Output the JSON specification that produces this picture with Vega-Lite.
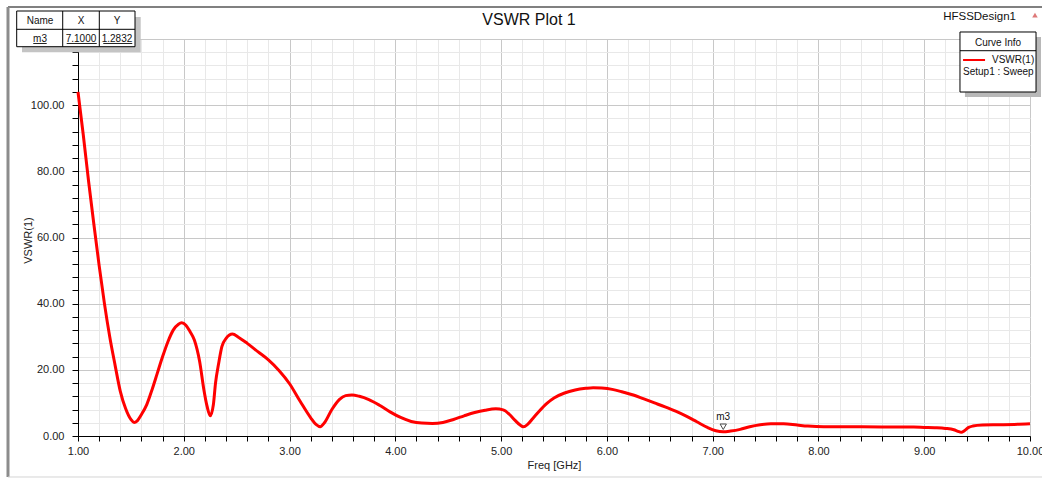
{
  "$schema": "https://vega.github.io/schema/vega-lite/v6.json",
  "width": 952,
  "height": 397,
  "autosize": {"type": "none"},
  "padding": {"left": 78, "top": 39, "right": 12, "bottom": 43},
  "background": "white",
  "config": {
    "font": "Liberation Sans",
    "view": {"stroke": "black", "strokeWidth": 1},
    "text": {"font": "Liberation Sans"}
  },
  "datasets": {
    "one": [{}],
    "marker": [{"Name": "m3", "X": 7.1, "Y": 1.2832}],
    "curve": [
      {"Freq": 1.00, "VSWR": 104},
      {"Freq": 1.05, "VSWR": 91},
      {"Freq": 1.10, "VSWR": 77},
      {"Freq": 1.15, "VSWR": 64},
      {"Freq": 1.20, "VSWR": 51.5},
      {"Freq": 1.25, "VSWR": 40},
      {"Freq": 1.30, "VSWR": 30},
      {"Freq": 1.35, "VSWR": 21.5},
      {"Freq": 1.40, "VSWR": 13.5},
      {"Freq": 1.45, "VSWR": 8.3},
      {"Freq": 1.50, "VSWR": 5},
      {"Freq": 1.53, "VSWR": 4.1},
      {"Freq": 1.56, "VSWR": 4.6},
      {"Freq": 1.60, "VSWR": 6.5},
      {"Freq": 1.65, "VSWR": 9.5},
      {"Freq": 1.70, "VSWR": 14},
      {"Freq": 1.75, "VSWR": 19},
      {"Freq": 1.80, "VSWR": 24},
      {"Freq": 1.85, "VSWR": 28.5},
      {"Freq": 1.90, "VSWR": 32},
      {"Freq": 1.95, "VSWR": 33.8},
      {"Freq": 1.98, "VSWR": 34.2},
      {"Freq": 2.02, "VSWR": 33.5},
      {"Freq": 2.06, "VSWR": 31.5},
      {"Freq": 2.10, "VSWR": 29},
      {"Freq": 2.15, "VSWR": 22.5},
      {"Freq": 2.19, "VSWR": 14},
      {"Freq": 2.22, "VSWR": 9},
      {"Freq": 2.25, "VSWR": 6.1},
      {"Freq": 2.28, "VSWR": 9.5},
      {"Freq": 2.30, "VSWR": 16},
      {"Freq": 2.33, "VSWR": 22},
      {"Freq": 2.36, "VSWR": 27},
      {"Freq": 2.40, "VSWR": 29.5},
      {"Freq": 2.46, "VSWR": 30.8},
      {"Freq": 2.52, "VSWR": 29.8},
      {"Freq": 2.60, "VSWR": 28},
      {"Freq": 2.70, "VSWR": 25.5},
      {"Freq": 2.80, "VSWR": 23},
      {"Freq": 2.90, "VSWR": 19.8},
      {"Freq": 3.00, "VSWR": 15.8},
      {"Freq": 3.10, "VSWR": 10.5},
      {"Freq": 3.20, "VSWR": 5.5},
      {"Freq": 3.25, "VSWR": 3.5},
      {"Freq": 3.29, "VSWR": 2.8},
      {"Freq": 3.33, "VSWR": 4},
      {"Freq": 3.40, "VSWR": 8},
      {"Freq": 3.47, "VSWR": 11},
      {"Freq": 3.53, "VSWR": 12.2},
      {"Freq": 3.59, "VSWR": 12.4},
      {"Freq": 3.66, "VSWR": 12},
      {"Freq": 3.75, "VSWR": 11},
      {"Freq": 3.85, "VSWR": 9.3},
      {"Freq": 3.95, "VSWR": 7.3},
      {"Freq": 4.05, "VSWR": 5.6},
      {"Freq": 4.15, "VSWR": 4.4},
      {"Freq": 4.25, "VSWR": 3.9},
      {"Freq": 4.35, "VSWR": 3.8},
      {"Freq": 4.45, "VSWR": 4.1},
      {"Freq": 4.55, "VSWR": 5},
      {"Freq": 4.65, "VSWR": 6.1},
      {"Freq": 4.75, "VSWR": 7.1},
      {"Freq": 4.85, "VSWR": 7.8},
      {"Freq": 4.95, "VSWR": 8.2},
      {"Freq": 5.02, "VSWR": 7.9},
      {"Freq": 5.08, "VSWR": 6.5},
      {"Freq": 5.13, "VSWR": 4.8},
      {"Freq": 5.18, "VSWR": 3.3},
      {"Freq": 5.21, "VSWR": 2.8},
      {"Freq": 5.25, "VSWR": 3.5},
      {"Freq": 5.30, "VSWR": 5.3},
      {"Freq": 5.36, "VSWR": 7.5},
      {"Freq": 5.43, "VSWR": 9.8},
      {"Freq": 5.50, "VSWR": 11.5},
      {"Freq": 5.60, "VSWR": 13},
      {"Freq": 5.70, "VSWR": 13.9},
      {"Freq": 5.80, "VSWR": 14.4},
      {"Freq": 5.87, "VSWR": 14.6},
      {"Freq": 5.95, "VSWR": 14.5},
      {"Freq": 6.05, "VSWR": 14.1},
      {"Freq": 6.15, "VSWR": 13.3},
      {"Freq": 6.25, "VSWR": 12.4},
      {"Freq": 6.35, "VSWR": 11.2},
      {"Freq": 6.45, "VSWR": 10},
      {"Freq": 6.55, "VSWR": 8.8},
      {"Freq": 6.65, "VSWR": 7.5},
      {"Freq": 6.75, "VSWR": 6},
      {"Freq": 6.85, "VSWR": 4.3},
      {"Freq": 6.95, "VSWR": 2.6},
      {"Freq": 7.03, "VSWR": 1.6},
      {"Freq": 7.10, "VSWR": 1.28},
      {"Freq": 7.17, "VSWR": 1.5},
      {"Freq": 7.26, "VSWR": 2.0},
      {"Freq": 7.35, "VSWR": 2.8},
      {"Freq": 7.45, "VSWR": 3.4},
      {"Freq": 7.55, "VSWR": 3.7},
      {"Freq": 7.67, "VSWR": 3.7},
      {"Freq": 7.80, "VSWR": 3.3},
      {"Freq": 7.90, "VSWR": 3.0},
      {"Freq": 8.05, "VSWR": 2.8},
      {"Freq": 8.30, "VSWR": 2.8},
      {"Freq": 8.60, "VSWR": 2.75},
      {"Freq": 8.90, "VSWR": 2.7},
      {"Freq": 9.00, "VSWR": 2.6},
      {"Freq": 9.10, "VSWR": 2.5},
      {"Freq": 9.20, "VSWR": 2.3},
      {"Freq": 9.28, "VSWR": 1.9},
      {"Freq": 9.32, "VSWR": 1.4},
      {"Freq": 9.35, "VSWR": 1.1},
      {"Freq": 9.38, "VSWR": 1.6},
      {"Freq": 9.42, "VSWR": 2.6},
      {"Freq": 9.46, "VSWR": 3.0},
      {"Freq": 9.55, "VSWR": 3.3},
      {"Freq": 9.70, "VSWR": 3.4},
      {"Freq": 9.85, "VSWR": 3.5},
      {"Freq": 10.00, "VSWR": 3.7}
    ]
  },
  "layer": [
    {"data": {"name": "curve"},
     "mark": {"type": "line", "color": "#ff0000", "strokeWidth": 3, "interpolate": "monotone"},
     "encoding": {
       "x": {"field": "Freq", "type": "quantitative",
             "scale": {"domain": [1, 10], "nice": false, "zero": false},
             "axis": {
               "title": "Freq [GHz]",
               "values": [1,1.2,1.4,1.6,1.8,2,2.2,2.4,2.6,2.8,3,3.2,3.4,3.6,3.8,4,4.2,4.4,4.6,4.8,5,5.2,5.4,5.6,5.8,6,6.2,6.4,6.6,6.8,7,7.2,7.4,7.6,7.8,8,8.2,8.4,8.6,8.8,9,9.2,9.4,9.6,9.8,10],
               "tickCount": 200,
               "labelExpr": "abs(datum.value - round(datum.value)) < 0.01 ? format(datum.value, '.2f') : ''",
               "grid": true,
               "gridColor": {"condition": {"test": "abs(datum.value - round(datum.value)) < 0.01", "value": "#c8c8c8"}, "value": "#e8e8e8"},
               "gridWidth": 1,
               "domainColor": "#000000", "tickColor": "#000000", "tickSize": 5,
               "labelFont": "Liberation Sans", "labelFontSize": 11, "labelColor": "#222222", "labelPadding": 4,
               "labelFlush": false, "labelOverlap": false, "labelBound": false,
               "titleFont": "Liberation Sans", "titleFontSize": 11, "titleFontWeight": "normal", "titleColor": "#222222", "titlePadding": 3
             }},
       "y": {"field": "VSWR", "type": "quantitative",
             "scale": {"domain": [0, 120], "nice": false, "zero": false},
             "axis": {
               "title": "VSWR(1)",
               "values": [0,4,8,12,16,20,24,28,32,36,40,44,48,52,56,60,64,68,72,76,80,84,88,92,96,100,104,108,112,116,120],
               "tickCount": 200,
               "labelExpr": "datum.value % 20 === 0 && datum.value <= 100 ? format(datum.value, '.2f') : ''",
               "grid": true,
               "gridColor": {"condition": {"test": "datum.value % 20 === 0", "value": "#c8c8c8"}, "value": "#e8e8e8"},
               "gridWidth": 1,
               "domainColor": "#000000", "tickColor": "#000000", "tickSize": 6,
               "labelFont": "Liberation Sans", "labelFontSize": 11, "labelColor": "#222222", "labelPadding": 8,
               "labelOverlap": false, "labelBound": false,
               "titleFont": "Liberation Sans", "titleFontSize": 11, "titleFontWeight": "normal", "titleColor": "#222222",
               "titleX": -45, "titleY": 201
             }}
     }},
    {"data": {"name": "one"}, "mark": {"type": "rule", "color": "#808080", "strokeWidth": 2},
     "encoding": {"x": {"datum": 0.3382, "type": "quantitative"}, "x2": {"datum": 10.2}, "y": {"datum": 129.67, "type": "quantitative"}}},
    {"data": {"name": "one"}, "mark": {"type": "rule", "color": "#8c8c8c", "strokeWidth": 3},
     "encoding": {"x": {"datum": 0.3382, "type": "quantitative"}, "y": {"datum": 129.67, "type": "quantitative"}, "y2": {"datum": -12.39}}},
    {"data": {"name": "one"}, "mark": {"type": "rule", "color": "#d4d4d4", "strokeWidth": 1},
     "encoding": {"x": {"datum": 0.3382, "type": "quantitative"}, "x2": {"datum": 10.2}, "y": {"datum": -12.39, "type": "quantitative"}}},
    {"data": {"name": "one"}, "mark": {"type": "text", "fontSize": 16, "color": "#111111", "align": "center", "baseline": "middle"},
     "encoding": {"x": {"datum": 5.2637, "type": "quantitative"}, "y": {"datum": 125.6, "type": "quantitative"}, "text": {"value": "VSWR Plot 1"}}},
    {"data": {"name": "marker"}, "mark": {"type": "point", "shape": "triangle-down", "filled": false, "stroke": "#000000", "strokeWidth": 1, "size": 40, "yOffset": -5},
     "encoding": {"x": {"field": "X", "type": "quantitative"}, "y": {"field": "Y", "type": "quantitative"}}},
    {"data": {"name": "marker"}, "mark": {"type": "text", "fontSize": 10, "dy": -15, "color": "#111111"},
     "encoding": {"x": {"field": "X", "type": "quantitative"}, "y": {"field": "Y", "type": "quantitative"}, "text": {"field": "Name"}}},

    {"data": {"name": "one"}, "mark": {"type": "rect", "color": "#c4c4c4"},
     "encoding": {"x": {"datum": 0.4706, "type": "quantitative"}, "x2": {"datum": 1.5928}, "y": {"datum": 126.65, "type": "quantitative"}, "y2": {"datum": 115.98}}},
    {"data": {"name": "one"}, "mark": {"type": "rect", "fill": "white", "stroke": "black", "strokeWidth": 1},
     "encoding": {"x": {"datum": 0.4205, "type": "quantitative"}, "x2": {"datum": 1.5389}, "y": {"datum": 128.46, "type": "quantitative"}, "y2": {"datum": 117.67}}},
    {"data": {"name": "one"}, "mark": {"type": "rule", "color": "black", "strokeWidth": 1},
     "encoding": {"x": {"datum": 0.4205, "type": "quantitative"}, "x2": {"datum": 1.5389}, "y": {"datum": 122.93, "type": "quantitative"}}},
    {"data": {"name": "one"}, "mark": {"type": "rule", "color": "black", "strokeWidth": 1},
     "encoding": {"x": {"datum": 0.8554, "type": "quantitative"}, "y": {"datum": 128.46, "type": "quantitative"}, "y2": {"datum": 117.67}}},
    {"data": {"name": "one"}, "mark": {"type": "rule", "color": "black", "strokeWidth": 1},
     "encoding": {"x": {"datum": 1.2014, "type": "quantitative"}, "y": {"datum": 128.46, "type": "quantitative"}, "y2": {"datum": 117.67}}},
    {"data": {"name": "one"}, "mark": {"type": "text", "fontSize": 10, "color": "#111111", "align": "center", "baseline": "middle"},
     "encoding": {"x": {"datum": 0.6408, "type": "quantitative"}, "y": {"datum": 125.29, "type": "quantitative"}, "text": {"value": "Name"}}},
    {"data": {"name": "one"}, "mark": {"type": "text", "fontSize": 10, "color": "#111111", "align": "center", "baseline": "middle"},
     "encoding": {"x": {"datum": 1.0284, "type": "quantitative"}, "y": {"datum": 125.29, "type": "quantitative"}, "text": {"value": "X"}}},
    {"data": {"name": "one"}, "mark": {"type": "text", "fontSize": 10, "color": "#111111", "align": "center", "baseline": "middle"},
     "encoding": {"x": {"datum": 1.3687, "type": "quantitative"}, "y": {"datum": 125.29, "type": "quantitative"}, "text": {"value": "Y"}}},
    {"data": {"name": "marker"}, "mark": {"type": "text", "fontSize": 10, "color": "#111111", "align": "center", "baseline": "middle"},
     "encoding": {"x": {"datum": 0.6408, "type": "quantitative"}, "y": {"datum": 120.0, "type": "quantitative"}, "text": {"field": "Name"}}},
    {"data": {"name": "marker"}, "mark": {"type": "text", "fontSize": 10, "color": "#111111", "align": "center", "baseline": "middle"},
     "encoding": {"x": {"datum": 1.0284, "type": "quantitative"}, "y": {"datum": 120.0, "type": "quantitative"}, "text": {"field": "X", "type": "quantitative", "format": ".4f"}}},
    {"data": {"name": "marker"}, "mark": {"type": "text", "fontSize": 10, "color": "#111111", "align": "center", "baseline": "middle"},
     "encoding": {"x": {"datum": 1.3687, "type": "quantitative"}, "y": {"datum": 120.0, "type": "quantitative"}, "text": {"field": "Y", "type": "quantitative", "format": ".4f"}}},
    {"data": {"name": "one"}, "mark": {"type": "rule", "color": "#222222", "strokeWidth": 1},
     "encoding": {"x": {"datum": 0.577, "type": "quantitative"}, "x2": {"datum": 0.704}, "y": {"datum": 118.64, "type": "quantitative"}}},
    {"data": {"name": "one"}, "mark": {"type": "rule", "color": "#222222", "strokeWidth": 1},
     "encoding": {"x": {"datum": 0.893, "type": "quantitative"}, "x2": {"datum": 1.177}, "y": {"datum": 118.64, "type": "quantitative"}}},
    {"data": {"name": "one"}, "mark": {"type": "rule", "color": "#222222", "strokeWidth": 1},
     "encoding": {"x": {"datum": 1.239, "type": "quantitative"}, "x2": {"datum": 1.513}, "y": {"datum": 118.64, "type": "quantitative"}}},

    {"data": {"name": "one"}, "mark": {"type": "rect", "color": "#b8b8b8"},
     "encoding": {"x": {"datum": 9.385, "type": "quantitative"}, "x2": {"datum": 10.104}, "y": {"datum": 120.6, "type": "quantitative"}, "y2": {"datum": 102.47}}},
    {"data": {"name": "one"}, "mark": {"type": "rect", "fill": "white", "stroke": "black", "strokeWidth": 1},
     "encoding": {"x": {"datum": 9.338, "type": "quantitative"}, "x2": {"datum": 10.057}, "y": {"datum": 122.12, "type": "quantitative"}, "y2": {"datum": 103.98}}},
    {"data": {"name": "one"}, "mark": {"type": "rule", "color": "black", "strokeWidth": 1},
     "encoding": {"x": {"datum": 9.338, "type": "quantitative"}, "x2": {"datum": 10.057}, "y": {"datum": 116.46, "type": "quantitative"}}},
    {"data": {"name": "one"}, "mark": {"type": "text", "fontSize": 10, "color": "#111111", "align": "center", "baseline": "middle"},
     "encoding": {"x": {"datum": 9.698, "type": "quantitative"}, "y": {"datum": 118.94, "type": "quantitative"}, "text": {"value": "Curve Info"}}},
    {"data": {"name": "one"}, "mark": {"type": "rule", "color": "#ff0000", "strokeWidth": 2},
     "encoding": {"x": {"datum": 9.367, "type": "quantitative"}, "x2": {"datum": 9.575}, "y": {"datum": 113.65, "type": "quantitative"}}},
    {"data": {"name": "one"}, "mark": {"type": "text", "fontSize": 10, "color": "#111111", "align": "left", "baseline": "middle"},
     "encoding": {"x": {"datum": 9.641, "type": "quantitative"}, "y": {"datum": 113.65, "type": "quantitative"}, "text": {"value": "VSWR(1)"}}},
    {"data": {"name": "one"}, "mark": {"type": "text", "fontSize": 10, "color": "#111111", "align": "left", "baseline": "middle"},
     "encoding": {"x": {"datum": 9.367, "type": "quantitative"}, "y": {"datum": 110.03, "type": "quantitative"}, "text": {"value": "Setup1 : Sweep"}}},
    {"data": {"name": "one"}, "mark": {"type": "text", "fontSize": 11.5, "color": "#111111", "align": "right", "baseline": "middle"},
     "encoding": {"x": {"datum": 9.8677, "type": "quantitative"}, "y": {"datum": 126.65, "type": "quantitative"}, "text": {"value": "HFSSDesign1"}}},
    {"data": {"name": "one"}, "mark": {"type": "point", "shape": "triangle-up", "filled": true, "color": "#d04040", "size": 30},
     "encoding": {"x": {"datum": 10.047, "type": "quantitative"}, "y": {"datum": 127.25, "type": "quantitative"}}}
  ]
}
